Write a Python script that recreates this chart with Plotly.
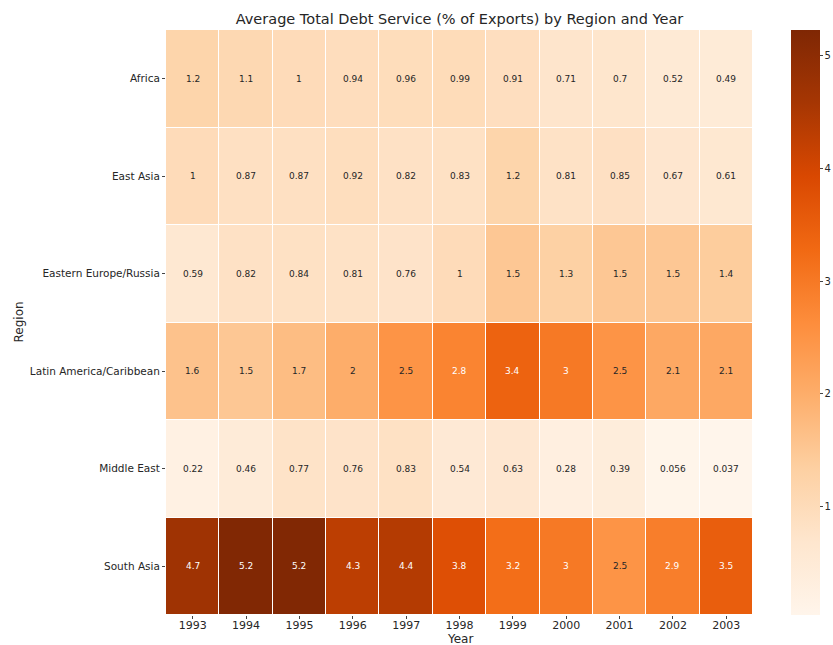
import plotly.graph_objects as go

years = [1993, 1994, 1995, 1996, 1997, 1998, 1999, 2000, 2001, 2002, 2003]
regions = ["Africa", "East Asia", "Eastern Europe/Russia", "Latin America/Caribbean", "Middle East", "South Asia"]

africa = [1.2, 1.1, 1.0, 0.94, 0.96, 0.99, 0.91, 0.71, 0.70, 0.52, 0.49]
east_asia = [1.0, 0.87, 0.87, 0.92, 0.82, 0.83, 1.2, 0.81, 0.85, 0.67, 0.61]
eastern_europe = [0.59, 0.82, 0.84, 0.81, 0.76, 1.0, 1.5, 1.3, 1.5, 1.5, 1.4]
latin_america = [1.6, 1.5, 1.7, 2.0, 2.5, 2.8, 3.4, 3.0, 2.5, 2.1, 2.1]
middle_east = [0.22, 0.46, 0.77, 0.76, 0.83, 0.54, 0.63, 0.28, 0.39, 0.056, 0.037]
south_asia = [4.7, 5.2, 5.2, 4.3, 4.4, 3.8, 3.2, 3.0, 2.5, 2.9, 3.5]

z = [africa, east_asia, eastern_europe, latin_america, middle_east, south_asia]

zmin = 0.037
zmax = 5.23

oranges = [
    [0.0, "#fff5eb"], [0.125, "#fee6ce"], [0.25, "#fdd0a2"], [0.375, "#fdae6b"],
    [0.5, "#fd8d3c"], [0.625, "#f16913"], [0.75, "#d94801"], [0.875, "#a63603"],
    [1.0, "#7f2704"],
]

font_family = "DejaVu Sans"

fig = go.Figure(
    go.Heatmap(
        z=z, x=years, y=regions,
        colorscale=oranges, zmin=zmin, zmax=zmax,
        xgap=1, ygap=1,
        colorbar=dict(
            x=(791 - 166) / 587, xanchor="left", y=0.5, yanchor="middle",
            len=1.0, lenmode="fraction", thickness=29,
            xpad=0, ypad=0,
            outlinewidth=0, tickvals=[1, 2, 3, 4, 5],
            ticks="outside", ticklen=3, tickcolor="#444",
            tickfont=dict(family=font_family, size=10, color="#262626"),
        ),
        hoverinfo="x+y+z",
    )
)

annotations = []
for r, row in zip(regions, z):
    for yr, v in zip(years, row):
        txt = f"{v:.2g}"
        color = "#ffffff" if v > 2.6 else "#262626"
        annotations.append(dict(x=yr, y=r, text=txt, showarrow=False,
                                font=dict(family=font_family, size=9, color=color)))

# axis titles placed as annotations for tight matplotlib-like spacing
annotations.append(dict(text="Year", xref="paper", yref="paper", x=0.5, y=-(639 - 615) / 585,
                        xanchor="center", yanchor="middle", showarrow=False,
                        font=dict(family=font_family, size=12, color="#262626")))
annotations.append(dict(text="Region", xref="paper", yref="paper", x=-(166 - 18) / 587, y=0.5,
                        xanchor="center", yanchor="middle", textangle=-90, showarrow=False,
                        font=dict(family=font_family, size=12, color="#262626")))

fig.update_layout(
    width=833, height=645,
    margin=dict(l=166, r=80, t=30, b=30, autoexpand=False),
    paper_bgcolor="white", plot_bgcolor="white",
    title=dict(text="Average Total Debt Service (% of Exports) by Region and Year",
               x=459.5 / 833, xanchor="center", y=1 - 19 / 645, yanchor="middle",
               font=dict(family=font_family, size=14.5, color="#262626")),
    annotations=annotations,
    font=dict(family=font_family, color="#262626"),
)
fig.update_xaxes(
    tickvals=years, ticktext=[str(y) for y in years],
    range=[years[0] - 0.5, years[-1] + 0.5],
    ticks="outside", ticklen=3, tickcolor="#444",
    ticklabelstandoff=-3,
    tickfont=dict(size=11), showgrid=False, zeroline=False,
)
fig.update_yaxes(
    type="category", autorange="reversed", ticks="outside", ticklen=3, tickcolor="#444",
    tickfont=dict(size=10.5), showgrid=False, zeroline=False,
)

fig.write_html("out.html")
